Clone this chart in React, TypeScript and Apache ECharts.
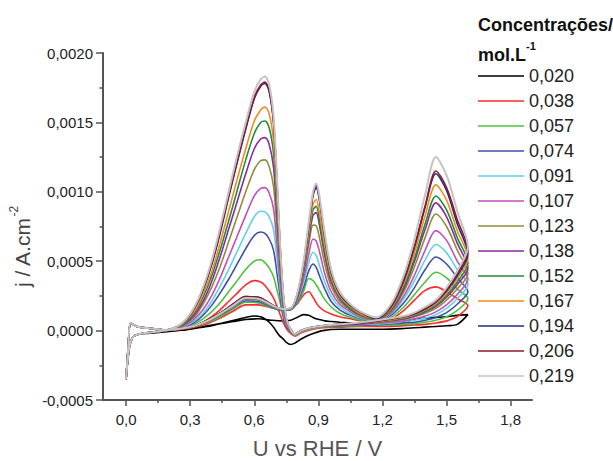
import React, { useEffect, useRef } from "react";
import * as echarts from "echarts";

// Potential grids (V vs RHE): anodic (forward) and cathodic (backward) sweep
const U_FORWARD = [0, 0.01, 0.022, 0.05, 0.12, 0.2, 0.26, 0.32, 0.38, 0.44, 0.5, 0.56, 0.62, 0.68, 0.73, 0.77, 0.8, 0.83, 0.855, 0.875, 0.89, 0.905, 0.93, 0.96, 1.0, 1.05, 1.1, 1.17, 1.24, 1.3, 1.35, 1.4, 1.45, 1.5, 1.55, 1.6];
const U_BACKWARD = [1.55, 1.5, 1.45, 1.4, 1.35, 1.3, 1.2, 1.1, 1.0, 0.92, 0.86, 0.82, 0.79, 0.77, 0.75, 0.735, 0.72, 0.705, 0.69, 0.67, 0.65, 0.63, 0.6, 0.56, 0.52, 0.48, 0.44, 0.4, 0.36, 0.32, 0.28, 0.24, 0.18, 0.1, 0.05, 0.03, 0.015, 0];

// Current density j, in units of 1e-4 A.cm^-2
const j020Fwd = [-3.5, -1.2, 0.55, 0.3, 0.15, 0.05, 0.1, 0.2, 0.35, 0.5, 0.65, 0.8, 0.85, 0.75, 0.7, 0.75, 0.95, 1.15, 1.1, 0.95, 0.85, 0.8, 0.7, 0.65, 0.6, 0.55, 0.5, 0.45, 0.45, 0.6, 0.8, 0.9, 0.95, 1.0, 1.1, 1.15];
const j020Bwd = [0.45, 0.35, 0.3, 0.25, 0.2, 0.15, 0.1, 0.1, 0.1, 0.0, -0.3, -0.6, -0.9, -1.0, -0.85, -0.6, -0.4, -0.1, 0.25, 0.6, 0.85, 1.0, 1.05, 0.95, 0.8, 0.65, 0.5, 0.35, 0.25, 0.15, 0.05, 0.0, -0.1, -0.2, -0.3, -0.5, -1.2, -3.5];

const j038Fwd = [-3.5, -1.2, 0.55, 0.3, 0.15, 0.05, 0.1, 0.25, 0.5, 0.9, 1.4, 1.85, 1.85, 1.65, 1.55, 1.6, 1.9, 2.55, 2.8, 2.4, 2.0, 1.7, 1.4, 1.2, 1.0, 0.85, 0.7, 0.5, 0.8, 1.45, 2.2, 2.9, 3.15, 2.8, 2.3, 1.8];
const j038Bwd = [1.0, 0.7, 0.55, 0.45, 0.4, 0.35, 0.3, 0.3, 0.25, 0.2, 0.05, -0.15, -0.4, -0.2, 0.15, 0.6, 1.2, 1.8, 2.35, 2.85, 3.25, 3.5, 3.6, 3.3, 2.7, 2.1, 1.5, 1.0, 0.6, 0.35, 0.15, 0.05, 0.0, -0.15, -0.3, -0.5, -1.2, -3.5];

const j057Fwd = [-3.5, -1.2, 0.55, 0.3, 0.15, 0.05, 0.15, 0.3, 0.6, 1.0, 1.55, 2.05, 2.0, 1.65, 1.45, 1.5, 1.95, 2.8, 3.75, 3.6, 3.3, 2.9, 2.25, 1.7, 1.25, 0.95, 0.75, 0.6, 0.95, 1.7, 2.6, 3.5, 4.2, 3.8, 3.0, 2.3];
const j057Bwd = [1.45, 1.0, 0.75, 0.6, 0.5, 0.45, 0.4, 0.35, 0.3, 0.25, 0.1, -0.1, -0.35, -0.1, 0.35, 1.05, 2.1, 3.0, 3.9, 4.5, 4.9, 5.1, 5.0, 4.4, 3.6, 2.8, 2.0, 1.35, 0.85, 0.5, 0.25, 0.1, 0.0, -0.15, -0.3, -0.5, -1.2, -3.5];

const j074Fwd = [-3.5, -1.2, 0.55, 0.3, 0.15, 0.05, 0.15, 0.35, 0.65, 1.1, 1.65, 2.15, 2.1, 1.7, 1.45, 1.5, 2.05, 3.1, 4.3, 4.8, 4.55, 3.95, 3.0, 2.1, 1.5, 1.1, 0.85, 0.65, 1.1, 2.0, 3.1, 4.4, 5.3, 4.8, 3.8, 2.8];
const j074Bwd = [1.9, 1.3, 0.95, 0.75, 0.6, 0.55, 0.45, 0.4, 0.35, 0.3, 0.15, -0.05, -0.3, -0.05, 0.3, 1.1, 2.6, 4.3, 5.8, 6.6, 7.0, 7.1, 6.85, 5.9, 4.8, 3.7, 2.7, 1.8, 1.1, 0.6, 0.3, 0.1, 0.0, -0.15, -0.3, -0.5, -1.2, -3.5];

const j091Fwd = [-3.5, -1.2, 0.55, 0.3, 0.15, 0.05, 0.15, 0.35, 0.7, 1.15, 1.7, 2.25, 2.2, 1.75, 1.5, 1.55, 2.15, 3.4, 4.9, 5.65, 5.4, 4.7, 3.5, 2.45, 1.7, 1.2, 0.9, 0.7, 1.2, 2.3, 3.6, 5.1, 6.2, 5.6, 4.4, 3.3];
const j091Bwd = [2.3, 1.6, 1.15, 0.9, 0.75, 0.65, 0.5, 0.45, 0.4, 0.3, 0.15, -0.05, -0.3, 0.0, 0.45, 1.4, 3.2, 5.4, 7.3, 8.2, 8.55, 8.6, 8.2, 7.0, 5.7, 4.4, 3.2, 2.1, 1.25, 0.7, 0.35, 0.12, 0.0, -0.15, -0.3, -0.5, -1.2, -3.5];

const j107Fwd = [-3.5, -1.2, 0.55, 0.3, 0.15, 0.05, 0.15, 0.35, 0.7, 1.15, 1.7, 2.25, 2.2, 1.75, 1.5, 1.55, 2.2, 3.7, 5.5, 6.6, 6.45, 5.7, 4.1, 2.8, 1.9, 1.35, 0.95, 0.7, 1.25, 2.5, 4.0, 5.8, 7.2, 6.5, 5.0, 3.7];
const j107Bwd = [2.6, 1.85, 1.35, 1.05, 0.85, 0.7, 0.55, 0.45, 0.4, 0.3, 0.15, -0.05, -0.3, 0.0, 0.5, 1.6, 3.7, 6.4, 8.8, 9.9, 10.3, 10.25, 9.7, 8.3, 6.8, 5.3, 3.8, 2.5, 1.5, 0.85, 0.4, 0.15, 0.0, -0.15, -0.3, -0.5, -1.2, -3.5];

const j123Fwd = [-3.5, -1.2, 0.55, 0.3, 0.15, 0.05, 0.15, 0.35, 0.7, 1.15, 1.75, 2.3, 2.25, 1.8, 1.5, 1.55, 2.3, 4.0, 6.2, 7.6, 7.55, 6.7, 4.8, 3.2, 2.1, 1.45, 1.0, 0.75, 1.35, 2.8, 4.6, 6.7, 8.4, 7.5, 5.8, 4.1];
const j123Bwd = [3.0, 2.2, 1.6, 1.25, 1.0, 0.8, 0.6, 0.5, 0.4, 0.3, 0.2, 0.0, -0.25, 0.05, 0.6, 1.9, 4.4, 7.6, 10.4, 11.8, 12.3, 12.25, 11.6, 10.0, 8.2, 6.4, 4.6, 3.1, 1.9, 1.0, 0.5, 0.2, 0.0, -0.15, -0.3, -0.5, -1.2, -3.5];

const j138Fwd = [-3.5, -1.2, 0.55, 0.3, 0.15, 0.05, 0.15, 0.35, 0.75, 1.25, 1.85, 2.4, 2.35, 1.85, 1.55, 1.6, 2.35, 4.2, 6.6, 8.3, 8.5, 7.6, 5.4, 3.5, 2.3, 1.55, 1.1, 0.8, 1.45, 3.0, 5.0, 7.3, 9.2, 8.2, 6.3, 4.5];
const j138Bwd = [3.3, 2.4, 1.75, 1.35, 1.05, 0.85, 0.65, 0.5, 0.4, 0.35, 0.2, 0.0, -0.25, 0.05, 0.7, 2.1, 5.0, 8.6, 11.8, 13.4, 13.9, 13.8, 13.1, 11.3, 9.3, 7.3, 5.3, 3.5, 2.1, 1.15, 0.55, 0.2, 0.0, -0.15, -0.3, -0.5, -1.2, -3.5];

const j152Fwd = [-3.5, -1.2, 0.55, 0.3, 0.15, 0.05, 0.15, 0.35, 0.7, 1.15, 1.75, 2.3, 2.25, 1.8, 1.5, 1.55, 2.4, 4.4, 6.9, 8.7, 8.95, 8.0, 5.7, 3.7, 2.4, 1.6, 1.15, 0.8, 1.5, 3.2, 5.2, 7.7, 9.7, 8.7, 6.7, 4.85];
const j152Bwd = [3.5, 2.55, 1.85, 1.4, 1.1, 0.9, 0.7, 0.55, 0.45, 0.35, 0.2, 0.0, -0.25, 0.05, 0.75, 2.3, 5.4, 9.4, 12.8, 14.6, 15.1, 15.0, 14.2, 12.3, 10.1, 7.9, 5.8, 3.9, 2.4, 1.3, 0.6, 0.25, 0.0, -0.15, -0.3, -0.5, -1.2, -3.5];

const j167Fwd = [-3.5, -1.2, 0.55, 0.3, 0.15, 0.05, 0.15, 0.35, 0.7, 1.2, 1.8, 2.35, 2.3, 1.85, 1.55, 1.6, 2.45, 4.5, 7.1, 9.1, 9.45, 8.5, 6.1, 3.9, 2.5, 1.7, 1.2, 0.85, 1.6, 3.4, 5.6, 8.3, 10.5, 9.4, 7.2, 5.2];
const j167Bwd = [3.75, 2.7, 1.95, 1.5, 1.15, 0.95, 0.7, 0.55, 0.45, 0.35, 0.2, 0.0, -0.25, 0.05, 0.8, 2.5, 5.8, 10.0, 13.7, 15.6, 16.1, 15.9, 15.1, 13.1, 10.9, 8.6, 6.3, 4.2, 2.6, 1.4, 0.7, 0.25, 0.0, -0.15, -0.3, -0.5, -1.2, -3.5];

const j194Fwd = [-3.5, -1.2, 0.55, 0.3, 0.15, 0.05, 0.15, 0.35, 0.75, 1.25, 1.9, 2.45, 2.4, 1.9, 1.55, 1.6, 2.5, 4.7, 7.5, 9.7, 10.3, 9.4, 6.7, 4.2, 2.65, 1.8, 1.3, 0.85, 1.7, 3.6, 6.0, 8.9, 11.3, 10.1, 7.7, 5.5];
const j194Bwd = [3.95, 2.85, 2.05, 1.55, 1.2, 1.0, 0.75, 0.55, 0.45, 0.35, 0.2, 0.0, -0.25, 0.1, 0.85, 2.7, 6.3, 11.0, 15.0, 17.2, 17.8, 17.6, 16.7, 14.5, 12.1, 9.6, 7.0, 4.7, 2.9, 1.6, 0.75, 0.3, 0.0, -0.15, -0.3, -0.5, -1.2, -3.5];

const j206Fwd = [-3.5, -1.2, 0.55, 0.3, 0.15, 0.05, 0.15, 0.35, 0.75, 1.25, 1.9, 2.45, 2.4, 1.9, 1.55, 1.6, 2.55, 4.8, 7.6, 9.85, 10.45, 9.5, 6.8, 4.3, 2.7, 1.85, 1.3, 0.9, 1.75, 3.7, 6.1, 9.0, 11.5, 10.3, 8.0, 5.75];
const j206Bwd = [4.1, 2.95, 2.1, 1.6, 1.25, 1.0, 0.75, 0.55, 0.45, 0.35, 0.2, 0.0, -0.25, 0.1, 0.85, 2.75, 6.4, 11.1, 15.1, 17.3, 17.9, 17.7, 16.8, 14.6, 12.2, 9.7, 7.1, 4.8, 3.0, 1.6, 0.75, 0.3, 0.0, -0.15, -0.3, -0.5, -1.2, -3.5];

const j219Fwd = [-3.5, -1.2, 0.55, 0.3, 0.15, 0.05, 0.15, 0.35, 0.7, 1.2, 1.8, 2.35, 2.3, 1.85, 1.55, 1.6, 2.6, 4.9, 7.8, 10.0, 10.6, 9.7, 7.0, 4.4, 2.8, 1.9, 1.35, 0.95, 1.9, 4.0, 6.6, 9.8, 12.5, 11.2, 8.6, 6.0];
const j219Bwd = [4.3, 3.1, 2.2, 1.7, 1.3, 1.05, 0.8, 0.6, 0.45, 0.35, 0.2, 0.0, -0.25, 0.1, 0.9, 2.8, 6.5, 11.4, 15.5, 17.7, 18.3, 18.1, 17.2, 15.0, 12.6, 10.0, 7.4, 5.0, 3.1, 1.7, 0.8, 0.3, 0.0, -0.15, -0.3, -0.5, -1.2, -3.5];

const CONCENTRATIONS = ["0,020", "0,038", "0,057", "0,074", "0,091", "0,107", "0,123", "0,138", "0,152", "0,167", "0,194", "0,206", "0,219"];
const COLORS = ["#000000", "#ff2a2a", "#4cc23a", "#3d50a8", "#5fd2e8", "#c24fbc", "#908d3a", "#8a2a9c", "#1f8c3e", "#f28c1e", "#1d2b8c", "#8c1a2c", "#c4c4c4"];
const FORWARD = [j020Fwd, j038Fwd, j057Fwd, j074Fwd, j091Fwd, j107Fwd, j123Fwd, j138Fwd, j152Fwd, j167Fwd, j194Fwd, j206Fwd, j219Fwd];
const BACKWARD = [j020Bwd, j038Bwd, j057Bwd, j074Bwd, j091Bwd, j107Bwd, j123Bwd, j138Bwd, j152Bwd, j167Bwd, j194Bwd, j206Bwd, j219Bwd];

const X_MAJOR = [0, 0.3, 0.6, 0.9, 1.2, 1.5, 1.8];
const X_MINOR = [0.15, 0.45, 0.75, 1.05, 1.35, 1.65];
const Y_MIN = -5;
const Y_MAX = 20;
const Y_STEP = 5;
const X_MIN = -0.108;
const X_MAX = 1.9;

const FONT = "'Liberation Sans', Arial, Helvetica, sans-serif";
const AXIS_COLOR = "#555555";

export default function App() {
  const ref = useRef<HTMLDivElement>(null);

  useEffect(() => {
    if (!ref.current) return;
    const chart = echarts.init(ref.current, undefined, { renderer: "svg" });

    const series = CONCENTRATIONS.map((name, k) => {
      const data: number[][] = [];
      U_FORWARD.forEach((u, i) => data.push([u, FORWARD[k][i]]));
      U_BACKWARD.forEach((u, i) => data.push([u, BACKWARD[k][i]]));
      return {
        name,
        type: "line",
        data,
        smooth: 0.3,
        symbol: "none",
        showSymbol: false,
        xAxisIndex: 0,
        yAxisIndex: 0,
        lineStyle: { color: COLORS[k], width: k === 12 ? 2 : 1.6 },
        itemStyle: { color: COLORS[k] },
        emphasis: { disabled: true },
      };
    });

    const option: any = {
      animation: false,
      grid: { left: 103, right: 81, top: 53, bottom: 61, containLabel: false, outerBoundsMode: "none" },
      xAxis: [
        {
          type: "value",
          min: X_MIN,
          max: X_MAX,
          position: "bottom",
          axisLine: { show: true, onZero: false, lineStyle: { color: AXIS_COLOR, width: 2 } },
          axisTick: { show: true, customValues: X_MAJOR, length: 6, lineStyle: { color: AXIS_COLOR, width: 1.5 } },
          axisLabel: {
            show: true,
            customValues: X_MAJOR,
            margin: 12,
            fontSize: 15,
            color: "#222",
            fontFamily: FONT,
            formatter: (v: number) => v.toFixed(1).replace(".", ","),
          },
          splitLine: { show: false },
          name: "U vs RHE / V",
          nameLocation: "middle",
          nameGap: 37,
          nameTextStyle: { fontSize: 22, color: "#555", fontFamily: FONT },
        },
        {
          type: "value",
          min: X_MIN,
          max: X_MAX,
          position: "bottom",
          axisLine: { show: false, onZero: false },
          axisTick: { show: true, customValues: X_MINOR, length: 3, lineStyle: { color: AXIS_COLOR, width: 1.5 } },
          axisLabel: { show: false },
          splitLine: { show: false },
        },
      ],
      yAxis: {
        type: "value",
        min: Y_MIN,
        max: Y_MAX,
        interval: Y_STEP,
        axisLine: { show: true, onZero: false, lineStyle: { color: AXIS_COLOR, width: 2 } },
        axisTick: { show: true, length: 7, lineStyle: { color: AXIS_COLOR, width: 1.5 } },
        minorTick: { show: true, splitNumber: 2, length: 3.5, lineStyle: { color: AXIS_COLOR, width: 1.5 } },
        splitLine: { show: false },
        minorSplitLine: { show: false },
        axisLabel: {
          margin: 10,
          fontSize: 15,
          color: "#222",
          fontFamily: FONT,
          formatter: (v: number) => (v * 1e-4).toFixed(4).replace(".", ","),
        },
      },
      legend: {
        orient: "vertical",
        left: 478,
        top: 67,
        padding: 0,
        icon: "rect",
        itemWidth: 46,
        itemHeight: 1.6,
        itemGap: 7,
        selectedMode: false,
        data: CONCENTRATIONS,
        textStyle: { fontSize: 18, color: "#222", fontFamily: FONT },
      },
      graphic: [
        {
          type: "text",
          x: 478,
          y: 25,
          style: { text: "Concentrações/", fontSize: 18, fontWeight: "bold", fontFamily: FONT, fill: "#111", align: "left", verticalAlign: "middle" },
        },
        {
          type: "text",
          x: 478,
          y: 55,
          style: { text: "mol.L", fontSize: 18, fontWeight: "bold", fontFamily: FONT, fill: "#111", align: "left", verticalAlign: "middle" },
        },
        {
          type: "text",
          x: 526,
          y: 46,
          style: { text: "-1", fontSize: 11, fontWeight: "bold", fontFamily: FONT, fill: "#111", align: "left", verticalAlign: "middle" },
        },
        {
          type: "group",
          x: 22,
          y: 247,
          rotation: Math.PI / 2,
          children: [
            {
              type: "text",
              x: -5.5,
              y: 0,
              style: { text: "j / A.cm", fontSize: 21, fontFamily: FONT, fill: "#444", align: "center", verticalAlign: "middle" },
            },
            {
              type: "text",
              x: 30.5,
              y: -8,
              style: { text: "-2", fontSize: 12, fontFamily: FONT, fill: "#444", align: "left", verticalAlign: "middle" },
            },
          ],
        },
      ],
      series,
    };

    chart.setOption(option);
    return () => chart.dispose();
  }, []);

  return (
    <div
      ref={ref}
      style={{ position: "absolute", left: 0, top: 0, width: 613, height: 461, background: "#fff" }}
    />
  );
}
